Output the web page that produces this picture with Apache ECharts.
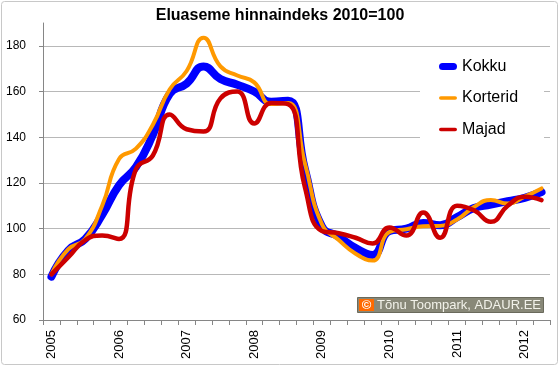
<!DOCTYPE html>
<html><head><meta charset="utf-8">
<script src="https://cdn.jsdelivr.net/npm/echarts@6/dist/echarts.min.js"></script>
<style>html,body{margin:0;padding:0;background:#fff}#c{width:560px;height:367px}</style>
</head><body><div id="c"></div>
<script>
const quarters = [
  '2005 Q1','2005 Q2','2005 Q3','2005 Q4',
  '2006 Q1','2006 Q2','2006 Q3','2006 Q4',
  '2007 Q1','2007 Q2','2007 Q3','2007 Q4',
  '2008 Q1','2008 Q2','2008 Q3','2008 Q4',
  '2009 Q1','2009 Q2','2009 Q3','2009 Q4',
  '2010 Q1','2010 Q2','2010 Q3','2010 Q4',
  '2011 Q1','2011 Q2','2011 Q3','2011 Q4',
  '2012 Q1','2012 Q2'
];
const kokku = [79, 90.5, 95.5, 106, 119, 127, 141, 159, 163.5, 171, 165.5, 163, 160, 155.5, 156, 126,
  101, 96.5, 91.5, 88.5, 99, 100, 102.5, 101.5, 105, 109, 110.5, 112, 113.5, 116];
const korterid = [80, 91, 95.5, 110, 130.5, 135, 145.5, 161, 169, 183.5, 171, 167, 164, 154.5, 155, 128.5,
  102, 95, 89, 86, 98.5, 99.7, 101, 101.2, 104, 109.5, 112.5, 111, 114, 117.6];
const majad = [80, 87.5, 95, 97, 95.5, 126, 132, 150, 143.5, 142.5, 157, 160, 146, 155, 154.5, 118,
  99, 98, 96, 93.5, 100.5, 97, 107, 96, 110, 108, 103, 110, 114, 112.5];
const yTicks = [60, 80, 100, 120, 140, 160, 180];
const seriesNames = ['Kokku', 'Korterid', 'Majad'];
const titleText = 'Eluaseme hinnaindeks 2010=100';
const creditText = 'Tõnu Toompark, ADAUR.EE';

const FONT = 'Liberation Sans, Arial, sans-serif';
const thick = 'path://M4,0 H16 A4,4 0 0 1 16,8 H4 A4,4 0 0 1 4,0 Z';
const thin = 'path://M2,0 H18 A2,2 0 0 1 18,4 H2 A2,2 0 0 1 2,0 Z';

const chart = echarts.init(document.getElementById('c'), null, {renderer: 'canvas'});
chart.setOption({
  animation: false,
  backgroundColor: '#fff',
  title: {
    text: titleText, left: 'center', top: 3,
    textStyle: {fontFamily: FONT, fontWeight: 'bold', fontSize: 16, color: '#000'}
  },
  grid: {left: 43, right: 10, top: 23, bottom: 47, containLabel: false},
  legend: {
    orient: 'vertical', left: 420, top: 50,
    padding: [7, 26, 8, 19],
    backgroundColor: '#fff',
    itemWidth: 18, itemHeight: 14, itemGap: 12.5,
    itemStyle: {borderWidth: 0},
    textStyle: {fontFamily: FONT, fontSize: 16, color: '#000', lineHeight: 19},
    data: [
      {name: seriesNames[0], icon: thick},
      {name: seriesNames[1], icon: thin},
      {name: seriesNames[2], icon: thin}
    ]
  },
  xAxis: {
    type: 'category', data: quarters, boundaryGap: true,
    axisLine: {lineStyle: {color: '#868686', width: 1}},
    axisTick: {show: true, interval: 0, length: 5, lineStyle: {color: '#868686'}},
    axisLabel: {
      interval: 3, rotate: 90, margin: 10,
      fontFamily: FONT, fontSize: 13, color: '#000',
      formatter: v => v.split(' ')[0]
    },
    splitLine: {show: false}
  },
  yAxis: {
    type: 'value', min: 60, max: 190, interval: 20,
    axisLine: {show: true, lineStyle: {color: '#868686', width: 1}},
    axisTick: {show: true, length: 4, lineStyle: {color: '#868686'}, customValues: yTicks},
    axisLabel: {
      margin: 17, fontFamily: FONT, fontSize: 12, color: '#000',
      customValues: yTicks
    },
    splitLine: {show: true, lineStyle: {color: '#b8b8b8', width: 1}}
  },
  series: [
    {name: seriesNames[0], type: 'line', data: kokku, smooth: 0.5, symbol: 'none', showSymbol: false,
     color: '#0000ff', lineStyle: {width: 8, color: '#0000ff', cap: 'round', join: 'round'}, emphasis: {disabled: true}},
    {name: seriesNames[1], type: 'line', data: korterid, smooth: 0.5, symbol: 'none', showSymbol: false,
     color: '#ff9900', lineStyle: {width: 4, color: '#ff9900', cap: 'round', join: 'round'}, emphasis: {disabled: true}},
    {name: seriesNames[2], type: 'line', data: majad, smooth: 0.5, symbol: 'none', showSymbol: false,
     color: '#cc0000', lineStyle: {width: 4.5, color: '#cc0000', cap: 'round', join: 'round'}, emphasis: {disabled: true}}
  ],
  graphic: [
    {type: 'rect', z: 100, shape: {x: 357.5, y: 297.5, width: 186, height: 15},
     style: {fill: '#888878', stroke: '#6a6a5c', lineWidth: 1}},
    {type: 'rect', z: 101, shape: {x: 359, y: 299, width: 15, height: 12},
     style: {fill: '#ff6a00'}},
    {type: 'text', z: 102, style: {text: '©', x: 366.5, y: 305.5, fill: '#ffffff',
      font: 'bold 13px ' + FONT, align: 'center', verticalAlign: 'middle'}},
    {type: 'text', z: 102, style: {text: creditText, x: 377, y: 305.5, fill: '#f2f2ea',
      font: '13px ' + FONT, align: 'left', verticalAlign: 'middle'}},
    {type: 'rect', z: 100, shape: {x: 1.5, y: 1.5, width: 556, height: 363, r: 3},
     style: {fill: 'none', stroke: '#c8c8c8', lineWidth: 1}}
  ]
});
</script>
</body></html>
